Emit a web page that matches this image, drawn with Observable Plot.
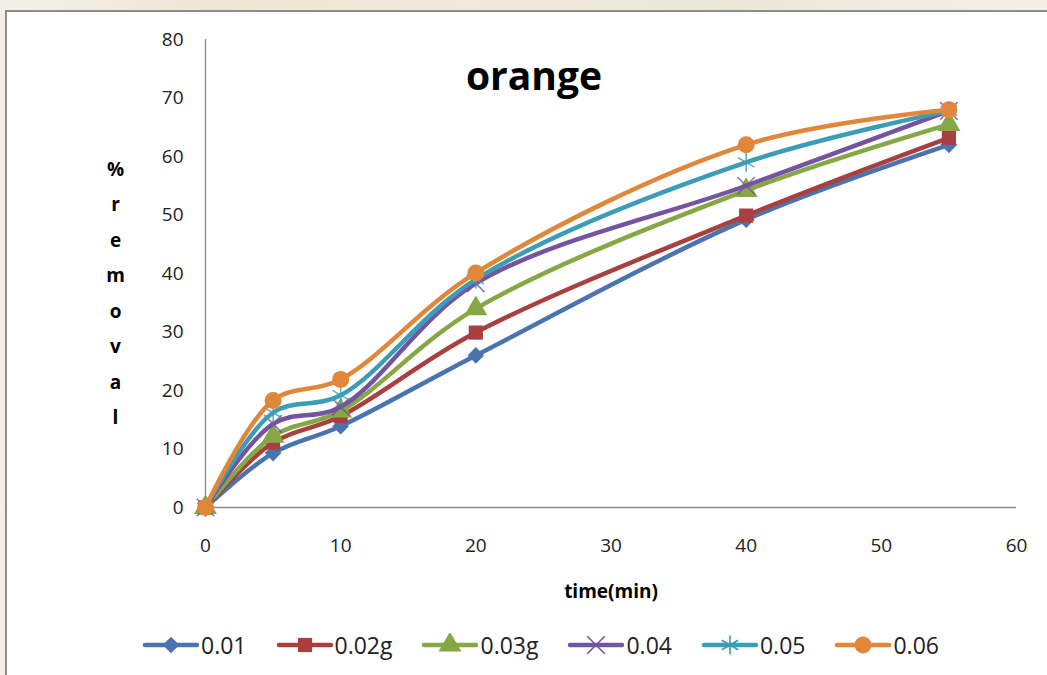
<!DOCTYPE html>
<html>
<head>
<meta charset="utf-8">
<script src="https://cdn.jsdelivr.net/npm/d3@7"></script>
<script src="https://cdn.jsdelivr.net/npm/@observablehq/plot@0.6"></script>
<style>
  html, body { margin: 0; padding: 0; }
  body {
    width: 1047px; height: 675px; overflow: hidden; position: relative;
    background: linear-gradient(90deg, #f4efe6 0%, #efe6d6 20%, #f1e9dc 45%, #ece8d8 70%, #f3efe6 100%);
    font-family: "Open Sans", sans-serif;
  }
  #frame {
    position: absolute; left: 5px; top: 10px; width: 1060px; height: 680px;
    border: 2px solid #8c8c8c; background: #fff;
  }
  #chart { position: absolute; left: 0; top: 0; }
  #legend {
    position: absolute; left: 135px; top: 617px; height: 32px; display: flex; align-items: center;
    font-family: "Open Sans", sans-serif; font-size: 23px; color: #222; white-space: nowrap;
  }
  .item { display: flex; align-items: center; margin-right: 29px; }
  .item span { margin-left: 1px; }
</style>
</head>
<body>
<div id="frame">
  <div id="chart"></div>
  <div id="legend"></div>
</div>
<script>
const times = [0, 5, 10, 20, 40, 55];
const seriesNames = ["0.01", "0.02g", "0.03g", "0.04", "0.05", "0.06"];
const s001 = [0, 9.3, 13.9, 26, 49.2, 62];
const s002 = [0, 11.1, 15.6, 29.9, 49.9, 63.2];
const s003 = [0, 12.2, 16.5, 34, 54.2, 65.5];
const s004 = [0, 14.3, 17.2, 38.3, 55, 67.8];
const s005 = [0, 16.2, 19.2, 39, 59, 67.8];
const s006 = [0, 18.3, 21.9, 40.1, 62, 68];
const seriesValues = [s001, s002, s003, s004, s005, s006];
const xTicks = [0, 10, 20, 30, 40, 50, 60];
const yTicks = [0, 10, 20, 30, 40, 50, 60, 70, 80];

const colors = ["#4a74b0", "#a9403f", "#86a844", "#7454a0", "#3c9db6", "#e0873a"];
const symbols = ["diamond2", "square", "triangle", "times", "asterisk", "circle"];
const filled = [true, true, true, false, false, true];
const radii = [7.5, 8, 8.5, 8, 9, 8.5];

const marks = [
  Plot.ruleY([0], {stroke: "#8a8a8a", strokeWidth: 1.3}),
  Plot.ruleX([0], {stroke: "#8a8a8a", strokeWidth: 1.3}),
  Plot.axisX(xTicks, {tickSize: 0, tickPadding: 31, fontSize: 19, fill: "#222", label: null}),
  Plot.axisY(yTicks, {tickSize: 0, tickPadding: 22, fontSize: 19, fill: "#222", label: null})
];

seriesValues.forEach((vals, i) => {
  const data = times.map((t, j) => ({t, v: vals[j]}));
  marks.push(Plot.line(data, {x: "t", y: "v", stroke: colors[i], strokeWidth: 4.5, curve: "catmull-rom"}));
  marks.push(Plot.dot(data, {
    x: "t", y: "v", symbol: () => symbols[i], r: radii[i],
    fill: filled[i] ? colors[i] : "none",
    stroke: filled[i] ? "none" : colors[i],
    strokeWidth: filled[i] ? 0 : 1.6,
    strokeOpacity: filled[i] ? 1 : 0.8
  }));
});

marks.push(Plot.text(["orange"], {frameAnchor: "top", dx: -77, dy: 23, fontSize: 39, fontWeight: "bold", fill: "#000"}));
marks.push(Plot.text(["time(min)"], {frameAnchor: "bottom", dy: 90, fontSize: 19, fontWeight: "bold", fill: "#000"}));
marks.push(Plot.text(["%\nr\ne\nm\no\nv\na\nl"], {frameAnchor: "left", dx: -90, dy: 15, fontSize: 19, fontWeight: "bold", lineHeight: 1.87, textAnchor: "middle", fill: "#000"}));

const chart = Plot.plot({
  width: 1040,
  height: 612,
  marginLeft: 198,
  marginRight: 31,
  marginTop: 27,
  marginBottom: 117,
  style: {fontFamily: "Open Sans, sans-serif", background: "transparent", overflow: "visible"},
  x: {domain: [0, 60], label: null},
  y: {domain: [0, 80], label: null},
  symbol: {type: "identity"},
  marks
});
document.getElementById("chart").appendChild(chart);

// legend
const legend = d3.select("#legend");
const symMap = {diamond2: d3.symbolDiamond2, square: d3.symbolSquare, triangle: d3.symbolTriangle,
                times: d3.symbolTimes, asterisk: d3.symbolAsterisk, circle: d3.symbolCircle};
seriesNames.forEach((name, i) => {
  const item = legend.append("div").attr("class", "item");
  const svg = item.append("svg").attr("width", 58).attr("height", 24);
  svg.append("line").attr("x1", 3).attr("x2", 55).attr("y1", 12).attr("y2", 12)
    .attr("stroke", colors[i]).attr("stroke-width", 4.5).attr("stroke-linecap", "round");
  const sym = d3.symbol(symMap[symbols[i]], Math.PI * radii[i] * radii[i]);
  svg.append("path").attr("d", sym()).attr("transform", "translate(29,12)")
    .attr("fill", filled[i] ? colors[i] : "none")
    .attr("stroke", filled[i] ? "none" : colors[i])
    .attr("stroke-width", 1.6);
  item.append("span").text(name);
});
</script>
</body>
</html>
